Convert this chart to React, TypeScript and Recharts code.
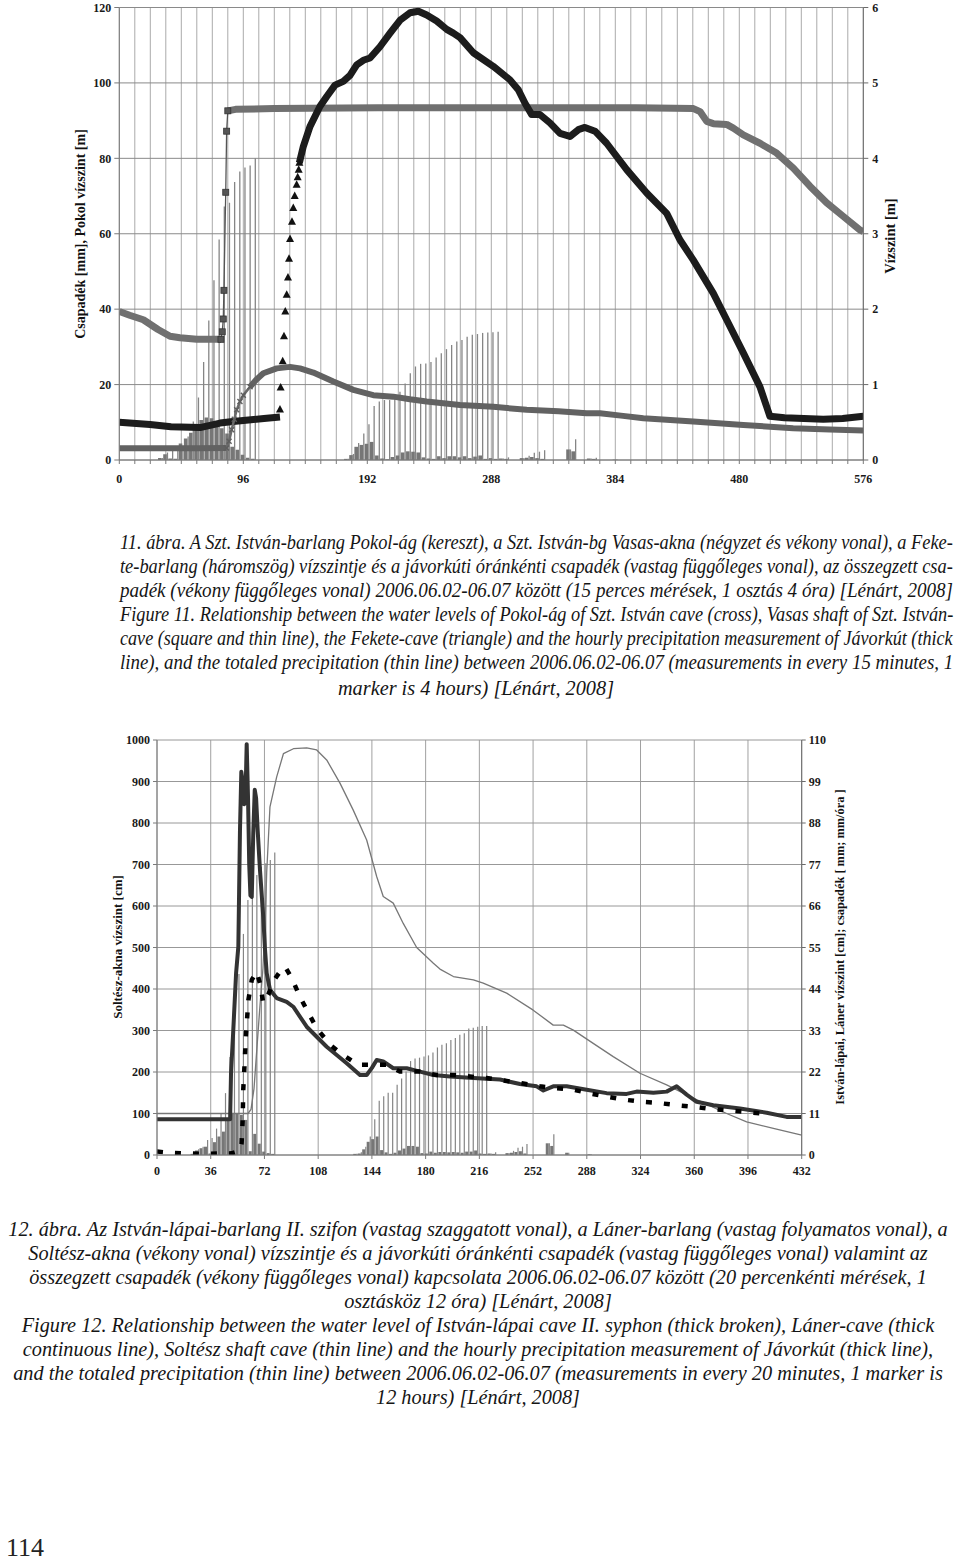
import React, { useLayoutEffect, useRef, useState } from 'react';
import { ComposedChart, Line, Bar, XAxis, YAxis, CartesianGrid } from 'recharts';

// ================= Figure 11 (15-minute steps, 1 division = 4 h) =================
const F11_X_TICKS = [0, 12, 24, 36, 48, 60, 72, 84, 96, 108, 120, 132, 144, 156, 168, 180, 192, 204, 216, 228, 240, 252, 264, 276, 288, 300, 312, 324, 336, 348, 360, 372, 384, 396, 408, 420, 432, 444, 456, 468, 480, 492, 504, 516, 528, 540, 552, 564, 576];
const F11_LEFT_TICKS = [0, 20, 40, 60, 80, 100, 120];
const F11_RIGHT_TICKS = [0, 1, 2, 3, 4, 5, 6];

// precipitation: hourly (thick bars) and totaled (thin bars), mm
const f11PrecipX = [32, 36, 40, 44, 48, 52, 56, 60, 64, 68, 72, 76, 80, 84, 88, 92, 96, 100, 104,
  176, 180, 184, 188, 192, 196, 200, 204, 208, 212, 216, 220, 224, 228, 232, 236, 240, 244, 248, 252, 256, 260, 264, 268, 272, 276, 280, 284, 288, 292,
  296, 300, 312, 316, 320, 324, 328, 348, 352, 364, 368, 384];
const f11Hourly = [0.5, 1.5, 0.4, 0.3, 4.4, 5.7, 7.2, 8.8, 10.6, 11.3, 11.1, 9.7, 8.4, 7.0, 3.5, 2.7, 1.4, 0.6, 0.3,
  0.3, 1.3, 3.5, 4.0, 4.3, 4.8, 1.2, 0.4, 0.2, 0.8, 1.2, 2.0, 2.3, 2.2, 2.0, 0.7, 0.4, 0.3, 1.0, 0.5, 1.0, 1.0, 0.7, 1.0, 0.5, 0.9, 1.2, 0.3, 0.5, 0.3,
  0.4, 0.3, 0.5, 0.6, 0.8, 0.5, 0.3, 2.8, 2.3, 0.4, 0.3, 0.1];
const f11Total = [0.5, 2.0, 2.4, 2.7, 3.5, 6.2, 10.2, 16.6, 26.0, 37.0, 47.7, 58.5, 67.2, 68.2, 73.7, 76.5, 77.6, 78.1, 80.0,
  0.3, 1.6, 4.5, 7.0, 9.5, 14.3, 15.5, 15.9, 15.9, 17.2, 18.1, 20.3, 23.0, 24.8, 25.5, 25.6, 26.0, 27.2, 28.3, 29.4, 30.5, 31.4, 31.8, 32.7, 33.2, 33.4, 33.7, 33.8, 33.9, 34.0,
  0.4, 0.7, 0.5, 1.1, 1.9, 2.2, 2.6, 2.8, 5.5, 0.4, 0.6, 0.1];

// Pokol-ág (cross) – left axis
const pokolAX = [0, 20, 40, 60, 83];
const pokolAY = [3.1, 3.1, 3.1, 3.1, 3.2];
const pokolRiseX = [83, 85, 87, 89, 90.9, 93.4, 96, 101.2];
const pokolRiseY = [3.2, 5.0, 8.0, 10.8, 13.3, 15.5, 17.2, 19.4];
const pokolBX = [101.2, 106, 111.5, 121.9, 132.2, 139.9, 150.2, 165.7, 181.2, 196.6, 212.1, 225, 237.9, 263.8, 289.5, 315.4, 340, 361.8, 372.1, 390, 405.7, 444.4, 483.1, 521.7, 550, 576];
const pokolBY = [19.4, 21.3, 23.0, 24.3, 24.7, 24.3, 23.2, 20.8, 18.6, 17.2, 16.8, 16.1, 15.5, 14.6, 14.1, 13.3, 12.9, 12.4, 12.4, 11.7, 11.1, 10.2, 9.3, 8.4, 8.1, 7.8];

// Vasas-akna (square and thin line) – right axis, m
const vasasAX = [0, 8, 18.6, 30, 39.3, 47, 60, 78.7];
const vasasAY = [1.97, 1.92, 1.86, 1.73, 1.64, 1.62, 1.60, 1.60];
const vasasJumpX = [78.7, 79.7, 80.5, 81, 82.4, 83.1, 84];
const vasasJumpY = [1.60, 1.70, 1.87, 2.25, 3.55, 4.36, 4.63];
const vasasBX = [84, 90, 120, 200, 300, 400, 444.5, 449.6, 454.8, 459.9, 470.2, 475.4, 483.1, 496, 508.9, 521.8, 534.7, 547.6, 560.5, 573.4, 576];
const vasasBY = [4.63, 4.65, 4.66, 4.67, 4.67, 4.67, 4.66, 4.62, 4.49, 4.46, 4.45, 4.40, 4.31, 4.20, 4.07, 3.87, 3.63, 3.41, 3.23, 3.05, 3.03];

// Fekete-barlang (triangle) – right axis, m
const feketeAX = [0, 23.8, 40, 62.5, 78, 88, 100, 112, 124.4];
const feketeAY = [0.50, 0.47, 0.44, 0.43, 0.49, 0.51, 0.53, 0.55, 0.57];
const feketeRiseX = [124.4, 124.9, 126.5, 127.5, 128.5, 129.6, 130.6, 131.4, 132.2, 133.7, 134.7, 135.8, 137.3, 138.1, 138.9, 139.4];
const feketeRiseY = [0.67, 0.96, 1.31, 1.64, 1.97, 2.19, 2.42, 2.67, 2.93, 3.16, 3.34, 3.50, 3.65, 3.75, 3.85, 3.94];
const feketeBX = [139.4, 142.5, 147.6, 155.4, 160.6, 167, 173.4, 178.6, 183.8, 188.9, 194.1, 201.8, 209.6, 217.3, 225.1, 231.5, 238, 245.7, 253.5, 258.6, 263.8, 274.1, 289.5, 302.5, 308.9, 314.1, 319.3, 325.7, 333.4, 341.2, 348.9, 355.4, 360.5, 368.3, 377.3, 392.8, 408.3, 423.8, 434, 444.4, 459.9, 470.2, 483.1, 496, 503.7, 515, 530, 545, 560, 576];
const feketeBY = [3.94, 4.16, 4.42, 4.69, 4.82, 4.97, 5.02, 5.10, 5.24, 5.30, 5.33, 5.48, 5.66, 5.83, 5.93, 5.95, 5.90, 5.82, 5.71, 5.66, 5.60, 5.40, 5.22, 5.04, 4.91, 4.73, 4.58, 4.58, 4.47, 4.33, 4.29, 4.38, 4.41, 4.36, 4.20, 3.85, 3.54, 3.27, 2.92, 2.65, 2.21, 1.86, 1.42, 0.97, 0.58, 0.56, 0.55, 0.54, 0.55, 0.58];

// ================= Figure 12 (20-minute steps, 1 division = 12 h) =================
const F12_X_TICKS = [0, 36, 72, 108, 144, 180, 216, 252, 288, 324, 360, 396, 432];
const F12_LEFT_TICKS = [0, 100, 200, 300, 400, 500, 600, 700, 800, 900, 1000];
const F12_RIGHT_TICKS = [0, 11, 22, 33, 44, 55, 66, 77, 88, 99, 110];

const f12PrecipX = [24, 27, 30, 33, 36, 39, 42, 45, 48, 51, 54, 57, 60, 63, 66, 69, 72, 75, 78,
  133, 136, 139, 142, 145, 148, 151, 154, 157, 160, 163, 166, 169, 172, 175, 178, 181, 184, 187, 190, 193, 196, 199, 202, 205, 208, 211, 214, 217, 220,
  223, 226, 235, 238, 241, 244, 247, 262, 265, 275, 290];
const f12Hourly = [0.3, 1.2, 1.8, 2.2, 0.4, 3.4, 4.9, 6.2, 9.6, 10.9, 10.9, 10.6, 9.3, 1.0, 5.6, 3.0, 0.9, 0.5, 0.3,
  0.3, 0.4, 1.5, 3.5, 4.2, 4.9, 1.3, 0.7, 0.3, 0.6, 1.2, 1.7, 2.4, 2.4, 2.2, 0.5, 0.4, 0.9, 0.6, 0.8, 0.8, 0.7, 0.8, 0.7, 0.6, 0.9, 0.9, 1.2, 0.4, 0.3,
  0.4, 0.3, 0.5, 0.6, 0.8, 1.0, 0.4, 3.1, 2.4, 0.6, 0.2];
const f12Total = [0.3, 1.5, 2.2, 4.0, 4.5, 7.0, 11.0, 16.4, 26.0, 37.0, 48.0, 58.6, 67.6, 68.5, 74.2, 76.4, 77.3, 78.2, 80.2,
  0.3, 0.7, 2.2, 4.9, 9.5, 14.4, 15.6, 16.5, 16.5, 18.6, 20.3, 22.1, 24.9, 25.6, 25.8, 26.1, 26.4, 27.2, 28.5, 29.2, 29.6, 30.5, 31.0, 31.9, 32.3, 33.5, 33.7, 34.0, 34.2, 34.2,
  0.4, 0.7, 0.5, 1.1, 1.9, 2.2, 2.9, 3.1, 5.5, 0.6, 0.2];

// Soltész-akna (thin line) – left axis, cm
const soltX = [0, 61, 63, 65, 67, 69, 71, 72.5, 73.5, 75.7, 80.2, 84.7, 91.4, 100.3, 107, 113.7, 122.6, 131.5, 140.5, 147.2, 151.6, 158.3, 165, 174, 185.2, 189.6, 198.6, 212, 218.6, 234.3, 252.1, 265.5, 272.3, 279, 292.3, 305.7, 323.6, 341.5, 359.4, 381.7, 395.1, 413, 432];
const soltY = [100, 100, 110, 160, 260, 360, 450, 560, 680, 839, 911, 967, 979, 981, 976, 952, 896, 831, 759, 671, 623, 607, 558, 500, 462, 448, 430, 422, 414, 390, 349, 313, 313, 301, 269, 237, 197, 169, 137, 100, 80, 64, 48];

// Láner-barlang (thick continuous) – right axis, cm
const lanerX = [0, 49, 49.6, 51, 53, 54.5, 55.6, 56.5, 57.4, 58.4, 59.2, 60.1, 61, 61.8, 62.6, 63.5, 64.5, 65.5, 66.4, 67.5, 69, 71.2, 72.4, 73.5, 75.7, 80.2, 86.9, 91.3, 100.3, 113.7, 127.1, 136, 140.5, 144, 147.2, 151.6, 158.3, 167.3, 176.2, 185.2, 196.3, 212, 229.8, 243.2, 254.4, 258.9, 265.5, 274.5, 287.9, 301.3, 314.7, 321.4, 332.6, 341.5, 348.2, 354.9, 361.6, 372.8, 390.6, 408.5, 421.9, 432];
const lanerY = [9.5, 9.5, 21.7, 32.2, 48.2, 55.2, 86.1, 101.6, 99.0, 93.0, 93.5, 108.9, 94.6, 77.0, 68.8, 68.4, 85.3, 96.8, 94.6, 85.8, 75.6, 63.1, 54.3, 48.2, 43.8, 41.6, 40.6, 39.3, 34.0, 28.7, 24.3, 21.2, 21.2, 23.1, 25.2, 24.8, 23.0, 23.0, 22.1, 21.2, 20.8, 20.4, 20.0, 18.8, 18.2, 17.1, 18.2, 18.2, 17.3, 16.4, 16.2, 16.8, 16.5, 16.8, 18.2, 16.0, 14.1, 13.2, 12.3, 11.2, 10.1, 10.1];

// István-lápai II. szifon (thick broken) – right axis, cm
const lapaiX = [0, 10, 30, 50, 55.6, 56.7, 57.4, 57.8, 58.5, 59.6, 61.2, 63.5, 66.8, 69, 71.2, 74.6, 77.9, 82.4, 85.8, 90.3, 95.8, 107, 116, 124.8, 134.9, 145, 154, 162.8, 176.2, 187.4, 198.6, 209.7, 220.9, 244.4, 256.6, 267.8, 279, 291.3, 302.4, 312.5, 324.8, 335.9, 348.2, 359.4, 371, 382.8, 394.6, 405.8];
const lapaiY = [0.9, 0.55, 0.33, 0.44, 1.2, 3.2, 9.2, 17.3, 22.6, 31.8, 41.0, 46.4, 48.6, 45.5, 40.3, 42.5, 46.0, 48.6, 49.9, 46.9, 41.9, 33.6, 29.2, 26.5, 23.9, 23.9, 23.9, 22.1, 22.1, 21.2, 21.2, 20.8, 20.4, 19.0, 18.2, 17.7, 17.3, 16.2, 15.4, 14.7, 14.1, 13.8, 13.2, 12.8, 12.2, 11.8, 11.4, 11.0];

// ================= helpers =================
const pts = (xs: number[], ys: number[]) => xs.map((x, i) => ({ x, y: ys[i] }));
const precipRows = (xs: number[], h: number[], t: number[]) => xs.map((x, i) => ({ x, hourly: h[i], total: t[i] }));

const f11Rows = precipRows(f11PrecipX, f11Hourly, f11Total);
const f12Rows = precipRows(f12PrecipX, f12Hourly, f12Total);

const SERIF = "'Liberation Serif', 'Times New Roman', serif";
const tickStyle = { fontFamily: SERIF, fontWeight: 700, fontSize: 12, fill: '#1a1a1a' };

const triDot = (p: any) => {
  if (p.cx == null || p.cy == null) return <g key={`t-${p.index}`} />;
  const { cx, cy } = p;
  return <path key={`t-${p.index}`} d={`M${cx},${cy - 4.5}L${cx + 4},${cy + 3}L${cx - 4},${cy + 3}Z`} fill="#111" />;
};
const squareDot = (p: any) => {
  if (p.cx == null || p.cy == null) return <g key={`s-${p.index}`} />;
  return <rect key={`s-${p.index}`} x={p.cx - 3} y={p.cy - 3} width={6} height={6} fill="#555" stroke="#333" strokeWidth={0.8} />;
};
const crossDot = (p: any) => {
  if (p.cx == null || p.cy == null) return <g key={`c-${p.index}`} />;
  const { cx, cy } = p;
  return <path key={`c-${p.index}`} d={`M${cx - 2.5},${cy - 2.5}L${cx + 2.5},${cy + 2.5}M${cx - 2.5},${cy + 2.5}L${cx + 2.5},${cy - 2.5}`} stroke="#5e5e5e" strokeWidth={1.4} />;
};

const lineCommon = { dataKey: 'y', type: 'linear' as const, activeDot: false, isAnimationActive: false, strokeLinejoin: 'round' as const };

function Figure11() {
  return (
    <ComposedChart width={960} height={500} data={f11Rows} barGap={0}
      margin={{ top: 7.5, right: 56.7, bottom: 10, left: 79.3 }}>
      <CartesianGrid horizontal={false} vertical stroke="#aaaaaa" strokeWidth={1} />
      <CartesianGrid yAxisId="left" horizontal vertical={false} stroke="#8a8a8a" strokeWidth={1} />
      <XAxis dataKey="x" type="number" domain={[0, 576]} ticks={F11_X_TICKS} interval={0} allowDataOverflow
        tickFormatter={(v: number) => (v % 96 === 0 ? String(v) : '')} tick={tickStyle}
        tickSize={4} tickMargin={10} stroke="#7a7a7a" height={30} />
      <XAxis xAxisId="bars" dataKey="x" type="number" domain={[0, 576]} hide allowDataOverflow />
      <YAxis yAxisId="left" domain={[0, 120]} ticks={F11_LEFT_TICKS} interval={0} width={40}
        tick={tickStyle} tickSize={5} tickMargin={3} stroke="#7a7a7a" allowDataOverflow />
      <YAxis yAxisId="right" orientation="right" domain={[0, 6]} ticks={F11_RIGHT_TICKS} interval={0} width={40}
        tick={tickStyle} tickSize={5} tickMargin={4} stroke="#6a6a6a" allowDataOverflow />
      <Bar xAxisId="bars" yAxisId="left" dataKey="hourly" barSize={3.6} fill="#767676" isAnimationActive={false} />
      <Bar xAxisId="bars" yAxisId="left" dataKey="total" barSize={1.3} fill="#858585" isAnimationActive={false} />

      <Line {...lineCommon} yAxisId="right" data={pts(vasasAX, vasasAY)} stroke="#707070" strokeWidth={7} dot={false} />
      <Line {...lineCommon} yAxisId="right" data={pts(vasasJumpX, vasasJumpY)} stroke="#555" strokeWidth={1.3} dot={squareDot} />
      <Line {...lineCommon} yAxisId="right" data={pts(vasasBX, vasasBY)} stroke="#707070" strokeWidth={7} dot={false} />

      <Line {...lineCommon} yAxisId="right" data={pts(feketeAX, feketeAY)} stroke="#1c1c1c" strokeWidth={7} dot={false} />
      <Line {...lineCommon} yAxisId="right" data={pts(feketeRiseX, feketeRiseY)} stroke="none" dot={triDot} />
      <Line {...lineCommon} yAxisId="right" data={pts(feketeBX, feketeBY)} stroke="#1c1c1c" strokeWidth={7} dot={false} />

      <Line {...lineCommon} yAxisId="left" data={pts(pokolAX, pokolAY)} stroke="#626262" strokeWidth={6} dot={false} />
      <Line {...lineCommon} yAxisId="left" data={pts(pokolRiseX, pokolRiseY)} stroke="#6a6a6a" strokeWidth={2.5} dot={crossDot} />
      <Line {...lineCommon} yAxisId="left" data={pts(pokolBX, pokolBY)} stroke="#626262" strokeWidth={6} dot={false} />
    </ComposedChart>
  );
}

function Figure12() {
  return (
    <ComposedChart width={960} height={500} data={f12Rows} barGap={0}
      margin={{ top: 40, right: 118.3, bottom: 15, left: 117 }}>
      <CartesianGrid horizontal={false} vertical stroke="#a0a0a0" strokeWidth={1} />
      <CartesianGrid yAxisId="left" horizontal vertical={false} stroke="#989898" strokeWidth={1} />
      <XAxis dataKey="x" type="number" domain={[0, 432]} ticks={F12_X_TICKS} interval={0} allowDataOverflow
        tick={tickStyle} tickSize={4} tickMargin={7} stroke="#7a7a7a" height={30} />
      <XAxis xAxisId="bars" dataKey="x" type="number" domain={[0, 432]} hide allowDataOverflow />
      <YAxis yAxisId="left" domain={[0, 1000]} ticks={F12_LEFT_TICKS} interval={0} width={40}
        tick={tickStyle} tickSize={4} tickMargin={3} stroke="#7a7a7a" allowDataOverflow />
      <YAxis yAxisId="right" orientation="right" domain={[0, 110]} ticks={F12_RIGHT_TICKS} interval={0} width={40}
        tick={tickStyle} tickSize={4} tickMargin={3} stroke="#6a6a6a" allowDataOverflow />
      <Bar xAxisId="bars" yAxisId="right" dataKey="hourly" barSize={3} fill="#767676" isAnimationActive={false} />
      <Bar xAxisId="bars" yAxisId="right" dataKey="total" barSize={1.2} fill="#858585" isAnimationActive={false} />

      <Line {...lineCommon} yAxisId="left" data={pts(soltX, soltY)} stroke="#777" strokeWidth={1.3} dot={false} />
      <Line {...lineCommon} yAxisId="right" data={pts(lanerX, lanerY)} stroke="#333" strokeWidth={4} dot={false} />
      <Line {...lineCommon} yAxisId="right" data={pts(lapaiX, lapaiY)} stroke="#000" strokeWidth={4.5} strokeDasharray="6 12" dot={false} />
    </ComposedChart>
  );
}

const cap1Lines = [
  '11. ábra. A Szt. István-barlang Pokol-ág (kereszt), a Szt. István-bg Vasas-akna (négyzet és vékony vonal), a Feke-',
  'te-barlang (háromszög) vízszintje és a jávorkúti óránkénti csapadék (vastag függőleges vonal), az összegzett csa-',
  'padék (vékony függőleges vonal) 2006.06.02-06.07 között (15 perces mérések, 1 osztás 4 óra) [Lénárt, 2008]',
  'Figure 11. Relationship between the water levels of Pokol-ág of Szt. István cave (cross), Vasas shaft of Szt. István-',
  'cave (square and thin line), the Fekete-cave (triangle) and the hourly precipitation measurement of Jávorkút (thick',
  'line), and the totaled precipitation (thin line) between 2006.06.02-06.07 (measurements in every 15 minutes, 1',
];
const cap1Last = 'marker is 4 hours) [Lénárt, 2008]';
const cap1Y = [542, 566, 590, 614, 638, 662];

const cap2Lines = [
  '12. ábra. Az István-lápai-barlang II. szifon (vastag szaggatott vonal), a Láner-barlang (vastag folyamatos vonal), a',
  'Soltész-akna (vékony vonal) vízszintje és a jávorkúti óránkénti csapadék (vastag függőleges vonal) valamint az',
  'összegzett csapadék (vékony függőleges vonal) kapcsolata 2006.06.02-06.07 között (20 percenkénti mérések, 1',
  'osztásköz 12 óra) [Lénárt, 2008]',
  'Figure 12. Relationship between the water level of István-lápai cave II. syphon (thick broken), Láner-cave (thick',
  'continuous line), Soltész shaft cave (thin line) and the hourly precipitation measurement of Jávorkút (thick line),',
  'and the totaled precipitation (thin line) between 2006.06.02-06.07 (measurements in every 20 minutes, 1 marker is',
  '12 hours) [Lénárt, 2008]',
];
const cap2Y = [1229, 1253, 1277, 1301, 1325, 1349, 1373, 1397];

const capFont: React.CSSProperties = { fontFamily: SERIF, fontStyle: 'italic', color: '#151515', lineHeight: '24px', position: 'absolute', whiteSpace: 'nowrap' };
const rotTitle = (cx: number, cy: number, size: number): React.CSSProperties => ({
  position: 'absolute', left: cx, top: cy, transform: 'translate(-50%, -50%) rotate(-90deg)', whiteSpace: 'nowrap',
  fontFamily: SERIF, fontWeight: 700, fontSize: size, color: '#111', lineHeight: 1,
});

// a caption line set to fill a given width (the printed caption is justified)
function FitLine({ text, left, top, width, fontSize }: { text: string; left: number; top: number; width: number; fontSize: number }) {
  const ref = useRef<HTMLSpanElement>(null);
  const [scale, setScale] = useState(1);
  useLayoutEffect(() => {
    if (ref.current) {
      const w = ref.current.offsetWidth;
      if (w > 0) setScale(width / w);
    }
  }, [text, width]);
  return (
    <div style={{ ...capFont, left, top, fontSize }}>
      <span ref={ref} style={{ display: 'inline-block', whiteSpace: 'nowrap', transform: `scaleX(${scale})`, transformOrigin: '0 0' }}>{text}</span>
    </div>
  );
}

export default function App() {
  return (
    <div style={{ position: 'absolute', left: 0, top: 0, width: 960, height: 1562, background: '#fff', overflow: 'hidden' }}>
      <div style={{ position: 'absolute', left: 0, top: 0 }}><Figure11 /></div>
      <div style={rotTitle(80.5, 234, 14)}>Csapadék [mm], Pokol vízszint [m]</div>
      <div style={rotTitle(890, 236, 14.5)}>Vízszint [m]</div>

      {cap1Lines.map((t, i) => (
        <FitLine key={`c1-${i}`} text={t} left={120} top={cap1Y[i] - 12} width={833} fontSize={20} />
      ))}
      <div style={{ ...capFont, left: 0, top: 688 - 12, width: 952, fontSize: 20.3, textAlign: 'center' }}>{cap1Last}</div>

      <div style={{ position: 'absolute', left: 0, top: 700 }}><Figure12 /></div>
      <div style={rotTitle(117, 947, 13)}>Soltész-akna vízszint [cm]</div>
      <div style={rotTitle(840, 947, 12.4)}>István-lápai, Láner vízszint [cm]; csapadék [ mm; mm/óra ]</div>

      {cap2Lines.map((t, i) => (
        <div key={`c2-${i}`} style={{ ...capFont, left: 0, top: cap2Y[i] - 12, width: 956, fontSize: 20.3, textAlign: 'center' }}>{t}</div>
      ))}

      <div style={{ position: 'absolute', left: 6, top: 1536, fontFamily: SERIF, fontSize: 26, lineHeight: '24px', color: '#222' }}>114</div>
    </div>
  );
}
